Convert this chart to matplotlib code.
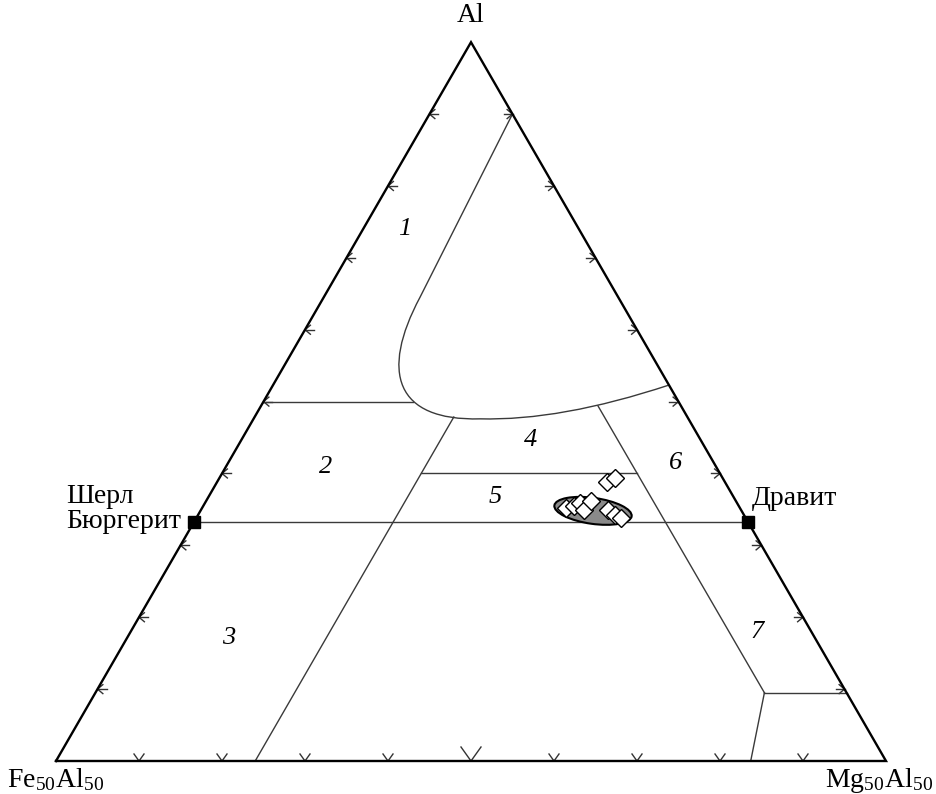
import numpy as np
import matplotlib
matplotlib.use('Agg')
import matplotlib.pyplot as plt
from matplotlib.patches import Ellipse, PathPatch
from matplotlib.path import Path

plt.rcParams['font.family'] = ['Liberation Serif', 'DejaVu Serif']
plt.rcParams['mathtext.fontset'] = 'stix'

H = np.sqrt(3) / 2

# ternary data: Al (top) and Mg50Al50 (right) in percent, rest is Fe50Al50
tick_vals = [10, 20, 30, 40, 50, 60, 70, 80, 90]

schorl_al, schorl_mg = 33.3, 0.0
dravite_al, dravite_mg = 33.3, 66.7

# field 1 boundary: straight part, then two bezier pieces (nodes + control points)
curve_al = [89.9, 64.5, 54.1, 47.3, 47.6, 47.3, 52.3]
curve_mg = [10.0, 11.6, 12.0, 17.2, 27.3, 37.1, 47.7]
curve_codes = [Path.MOVETO, Path.LINETO, Path.CURVE4, Path.CURVE4, Path.CURVE4,
               Path.CURVE3, Path.CURVE3]

# straight field boundaries: (Al list, Mg list)
boundaries = [
    ([33.3, 33.3], [0.0, 66.7]),    # schorl - dravite
    ([50.0, 50.0], [0.0, 18.0]),
    ([0.0, 47.85], [24.0, 24.0]),
    ([40.0, 40.0], [24.0, 50.0]),
    ([49.4, 9.5], [40.6, 80.6]),
    ([9.5, 9.5], [80.6, 90.5]),
    ([9.5, 0.0], [80.6, 83.7]),
]

field_names = ['1', '2', '3', '4', '5', '6', '7']
field_al = [74.0, 40.9, 17.1, 44.7, 36.7, 41.5, 17.9]
field_mg = [5.0, 12.0, 12.3, 34.8, 34.6, 53.9, 75.5]

# analyses
pts_al = [38.8, 39.4, 35.2, 35.5, 35.9, 34.9, 36.2, 34.9, 34.2, 33.8]
pts_mg = [47.0, 47.7, 43.9, 44.6, 45.2, 46.2, 46.3, 49.1, 50.2, 51.2]
ell_al, ell_mg = 34.8, 47.3


def tern(al, mg):
    al = np.asarray(al, dtype=float) / 100
    mg = np.asarray(mg, dtype=float) / 100
    return mg + al / 2, al * H


fig = plt.figure(figsize=(9.37, 7.94), dpi=100)
ax = fig.add_axes([56 / 937, 33 / 794, 830 / 937, 718.8 / 794])
ax.set_xlim(0, 1)
ax.set_ylim(0, H)
ax.axis('off')
u = 1 / 830  # one pixel in data units

# frame
ax.plot([0, 1, 0.5, 0], [0, 0, H, 0], color='black', lw=1.7,
        solid_joinstyle='miter', clip_on=False, zorder=3)

# ticks
th = np.radians(40)
for v in tick_vals:
    # left edge
    x, y = tern(v, 0)
    ax.plot([x + 9 * u, x], [y, y], color='#333333', lw=1.0)
    ax.plot([x + 7 * u * np.cos(th), x, x + 7 * u * np.cos(th)],
            [y + 7 * u * np.sin(th), y, y - 7 * u * np.sin(th)],
            color='#333333', lw=1.0)
    # right edge
    x, y = tern(v, 100 - v)
    ax.plot([x - 9 * u, x], [y, y], color='#333333', lw=1.0)
    ax.plot([x - 7 * u * np.cos(th), x, x - 7 * u * np.cos(th)],
            [y + 7 * u * np.sin(th), y, y - 7 * u * np.sin(th)],
            color='#333333', lw=1.0)
    # bottom edge
    x, y = tern(0, v)
    s = 2.0 if v == 50 else 1.0
    ax.plot([x - 5 * s * u, x, x + 5 * s * u], [y + 7 * s * u, y, y + 7 * s * u],
            color='#333333', lw=1.0)

# boundaries
for b_al, b_mg in boundaries:
    bx, by = tern(b_al, b_mg)
    ax.plot(bx, by, color='#3a3a3a', lw=1.0, zorder=2)
cx, cy = tern(curve_al, curve_mg)
ax.add_patch(PathPatch(Path(np.column_stack([cx, cy]), curve_codes),
                       facecolor='none', edgecolor='#3a3a3a', lw=1.0, zorder=2))

# field numbers
for name, fa, fm in zip(field_names, field_al, field_mg):
    fx, fy = tern(fa, fm)
    ax.text(fx, fy, name, fontsize=19, style='italic', ha='center', va='center')

# end members
sx, sy = tern(schorl_al, schorl_mg)
dx, dy = tern(dravite_al, dravite_mg)
ax.plot([sx, dx], [sy, dy], 's', color='black', ms=8.5, zorder=5, clip_on=False)
ax.annotate('Шерл\nБюргерит', (sx, sy), xytext=(-9, -9), textcoords='offset points',
            ha='right', va='bottom', multialignment='left', fontsize=20,
            linespacing=1.0)
ax.annotate('Дравит', (dx, dy), xytext=(3, 12), textcoords='offset points',
            ha='left', va='baseline', fontsize=20)

# data
ex, ey = tern(ell_al, ell_mg)
ax.add_patch(Ellipse((float(ex), float(ey)), 78 * u, 26 * u, angle=-8,
                     facecolor='#8a8a8a', edgecolor='black', lw=1.5, zorder=4))
px, py = tern(pts_al, pts_mg)
ax.plot(px, py, 'D', ms=9.5, mfc='white', mec='black', mew=1.0, ls='none', zorder=6)

# corner labels
ax.annotate('Al', tern(100, 0), xytext=(0, 19), textcoords='offset points',
            ha='center', va='center', fontsize=20)
ax.annotate(r'Fe$_{\mathregular{50}}$Al$_{\mathregular{50}}$', tern(0, 0),
            xytext=(0, -14), textcoords='offset points',
            ha='center', va='center', fontsize=20)
ax.annotate(r'Mg$_{\mathregular{50}}$Al$_{\mathregular{50}}$', tern(0, 100),
            xytext=(-5, -14), textcoords='offset points',
            ha='center', va='center', fontsize=20)

fig.savefig('out.png', dpi=100)
